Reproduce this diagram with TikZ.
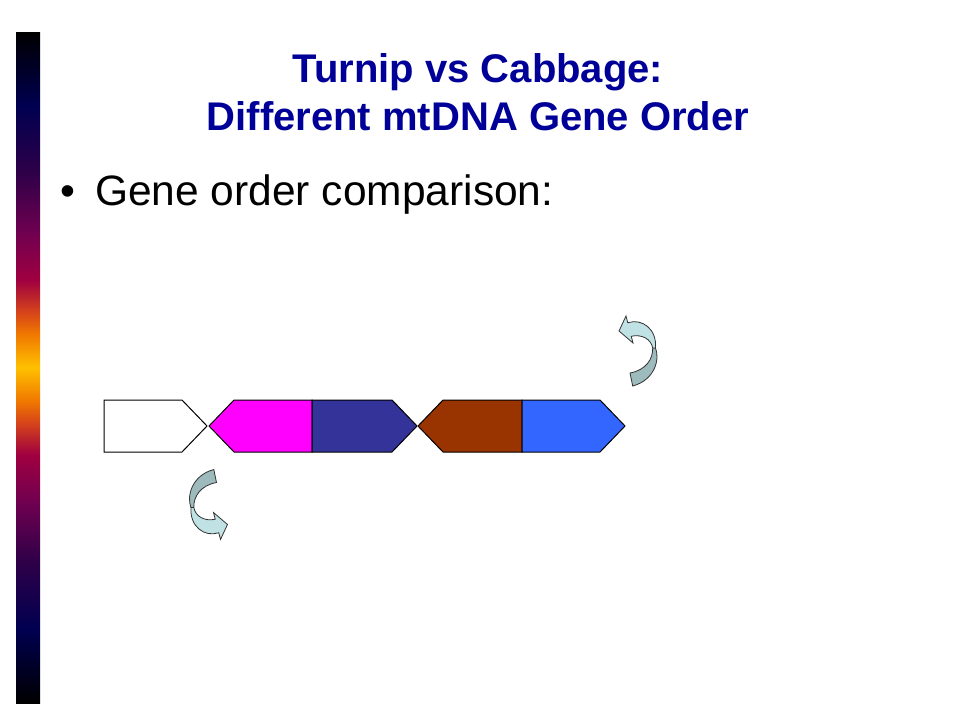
\documentclass[tikz,border=0pt]{standalone}
\usepackage{fontspec}
\setmainfont{Liberation Sans}
\usetikzlibrary{positioning}

\definecolor{titleblue}{HTML}{000099}
\definecolor{genemag}{HTML}{FF00FF}
\definecolor{genenavy}{HTML}{333399}
\definecolor{genebrown}{HTML}{993300}
\definecolor{geneblue}{HTML}{3366FF}
\definecolor{twistlight}{HTML}{C0E2E4}
\definecolor{twistdark}{HTML}{9DBABD}
\definecolor{barA}{HTML}{000050}
\definecolor{barB}{HTML}{2E0048}
\definecolor{barC}{HTML}{700050}
\definecolor{barD}{HTML}{A00040}
\definecolor{barE}{HTML}{D84818}
\definecolor{barF}{HTML}{F07800}
\definecolor{barG}{HTML}{FFC000}

\pgfdeclareverticalshading{sidebar}{100bp}{color(0bp)=(black); color(25bp)=(black);
  color(30.5bp)=(barA); color(35.5bp)=(barB); color(40bp)=(barC); color(43.5bp)=(barD);
  color(46bp)=(barE); color(47.5bp)=(barF); color(50bp)=(barG); color(52.5bp)=(barF);
  color(54bp)=(barE); color(56.5bp)=(barD); color(60bp)=(barC); color(64.5bp)=(barB);
  color(69.5bp)=(barA); color(75bp)=(black); color(100bp)=(black)}

\tikzset{
  gene/.style={draw=black, line width=1pt},
  twist/.pic={
    \filldraw[draw=black!80, line width=0.8pt, fill=twistdark]
      (17.5,-3) .. controls (22,8) and (17,29) .. (-5.3,35) -- (-8,22)
      .. controls (8,19) and (15,8) .. (14.7,-3) -- cycle;
    \filldraw[draw=black!80, line width=0.8pt, fill=twistlight]
      (-12,-35) -- (-10.25,-28.25) .. controls (4,-33) and (19,-22) .. (17.5,-3)
      -- (14.7,-3) .. controls (13,-12) and (4,-17) .. (-6.75,-14.75)
      -- (-5,-8) -- (-19,-20) -- cycle;
  }
}

\begin{document}
\begin{tikzpicture}[x=1pt, y=-1pt]
    \useasboundingbox (0,0) rectangle (960,720);
    \shade[shading=sidebar] (16,32) rectangle (40,703);

    \path (478,82) node [anchor=base, text=titleblue, font=\fontsize{40}{48}\selectfont\bfseries] (t1) {Turnip vs Cabbage:};
    \path (478,130) node [anchor=base, text=titleblue, font=\fontsize{40}{48}\selectfont\bfseries] (t2) {Different mtDNA Gene Order};
    \path (95,205) node [anchor=base west, inner sep=0pt, font=\fontsize{42.5}{50}\selectfont] (bl) {Gene order comparison:};
    \path (bl.base west) ++(-27,0) node [anchor=base, inner sep=0pt, font=\fontsize{42.5}{50}\selectfont] (dot) {\textbullet};

    \draw [gene, fill=white] (104,400) -- (182,400) -- (207,426) -- (182,452) -- (104,452) -- cycle;
    \draw [gene, fill=genemag] (209,426) -- (234,400) -- (312,400) -- (312,452) -- (234,452) -- cycle;
    \draw [gene, fill=genenavy] (312,400) -- (392,400) -- (417,426) -- (392,452) -- (312,452) -- cycle;
    \draw [gene, fill=genebrown] (418,426) -- (443,400) -- (522,400) -- (522,452) -- (443,452) -- cycle;
    \draw [gene, fill=geneblue] (522,400) -- (600,400) -- (625,426) -- (600,452) -- (522,452) -- cycle;

    \pic at (638,351) {twist};
    \pic [rotate=180] at (208.5,504.5) {twist};
\end{tikzpicture}
\end{document}
